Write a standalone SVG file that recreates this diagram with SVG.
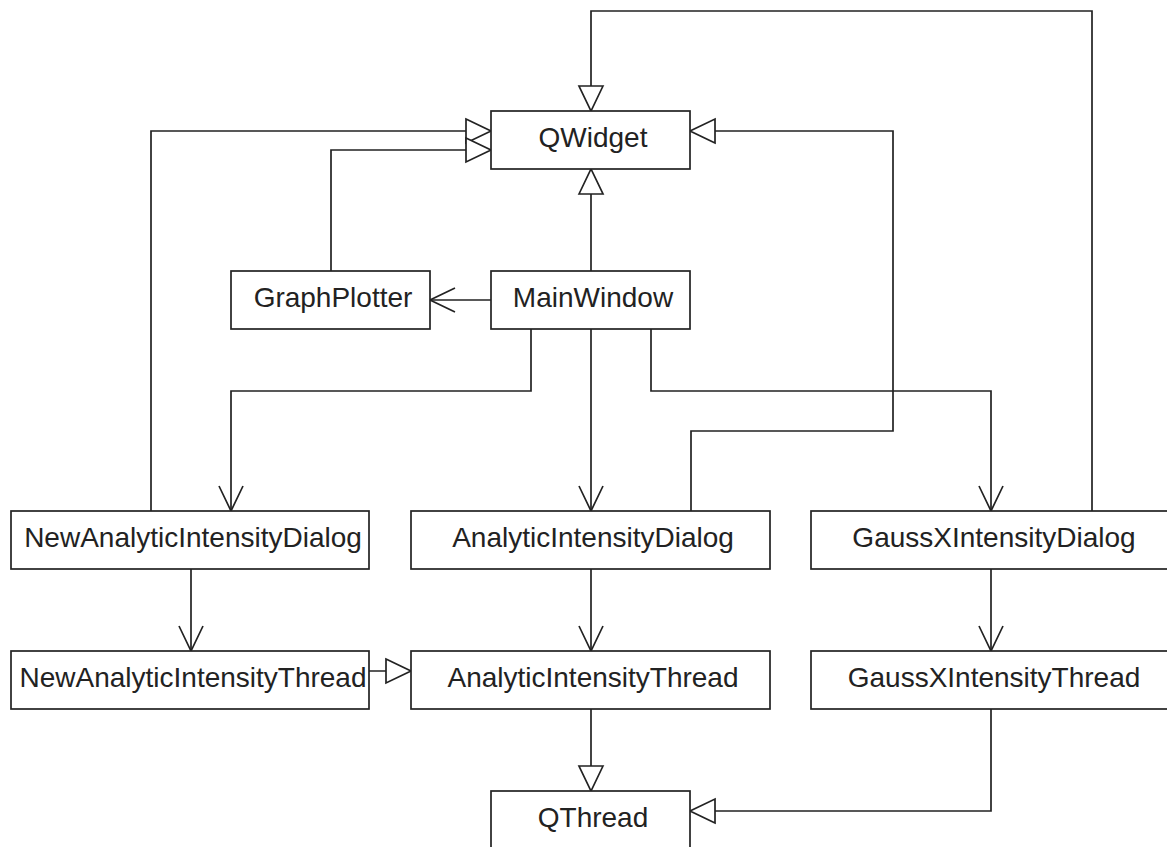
<svg xmlns="http://www.w3.org/2000/svg" width="1167" height="847" viewBox="0 0 1167 847">
<style>
.box{fill:#fff;stroke:#222;stroke-width:1.7}
.lbl{font-family:"Liberation Sans",Arial,sans-serif;font-size:28px;fill:#222;text-anchor:middle}
.c{fill:none;stroke:#222;stroke-width:1.7}
.gen{marker-end:url(#tri)}
.asc{marker-end:url(#open)}
</style>
<defs>
<marker id="tri" markerUnits="userSpaceOnUse" markerWidth="30" markerHeight="30" refX="25" refY="0" orient="auto" style="overflow:visible">
<path d="M0,-12 L25,0 L0,12 Z" fill="#fff" stroke="#222" stroke-width="1.7"/>
</marker>
<marker id="open" markerUnits="userSpaceOnUse" markerWidth="30" markerHeight="30" refX="25" refY="0" orient="auto" style="overflow:visible">
<path d="M0,-12 L25,0 L0,12" fill="none" stroke="#222" stroke-width="1.7"/>
</marker>
</defs>
<rect width="1167" height="847" fill="#fff"/>
<g id="connectors">
<path class="c gen" d="M1092,511 V11 H591 V111"/>
<path class="c gen" d="M151,511 V131 H491"/>
<path class="c gen" d="M331,271 V150 H491"/>
<path class="c gen" d="M691,511 V431 H893 V131 H690"/>
<path class="c gen" d="M591,271 V169"/>
<path class="c asc" d="M491,300 H430"/>
<path class="c asc" d="M531,329 V391 H231 V511"/>
<path class="c asc" d="M591,329 V511"/>
<path class="c asc" d="M651,329 V391 H991 V511"/>
<path class="c asc" d="M191,569 V651"/>
<path class="c asc" d="M591,569 V651"/>
<path class="c asc" d="M991,569 V651"/>
<path class="c gen" d="M369,671 H411"/>
<path class="c gen" d="M591,709 V791"/>
<path class="c gen" d="M991,709 V811 H690"/>
</g>
<g id="QWidget"><rect class="box" x="491" y="111" width="199" height="58"/><text class="lbl" x="593" y="147">QWidget</text></g>
<g id="GraphPlotter"><rect class="box" x="231" y="271" width="199" height="58"/><text class="lbl" x="333" y="307">GraphPlotter</text></g>
<g id="MainWindow"><rect class="box" x="491" y="271" width="199" height="58"/><text class="lbl" x="593" y="307">MainWindow</text></g>
<g id="NewAnalyticIntensityDialog"><rect class="box" x="11" y="511" width="358" height="58"/><text class="lbl" x="193" y="547">NewAnalyticIntensityDialog</text></g>
<g id="AnalyticIntensityDialog"><rect class="box" x="411" y="511" width="359" height="58"/><text class="lbl" x="593" y="547">AnalyticIntensityDialog</text></g>
<g id="GaussXIntensityDialog"><rect class="box" x="811" y="511" width="359" height="58"/><text class="lbl" x="994" y="547">GaussXIntensityDialog</text></g>
<g id="NewAnalyticIntensityThread"><rect class="box" x="11" y="651" width="358" height="58"/><text class="lbl" x="193" y="687">NewAnalyticIntensityThread</text></g>
<g id="AnalyticIntensityThread"><rect class="box" x="411" y="651" width="359" height="58"/><text class="lbl" x="593" y="687">AnalyticIntensityThread</text></g>
<g id="GaussXIntensityThread"><rect class="box" x="811" y="651" width="359" height="58"/><text class="lbl" x="994" y="687">GaussXIntensityThread</text></g>
<g id="QThread"><rect class="box" x="491" y="791" width="199" height="58"/><text class="lbl" x="593" y="827">QThread</text></g>
</svg>
